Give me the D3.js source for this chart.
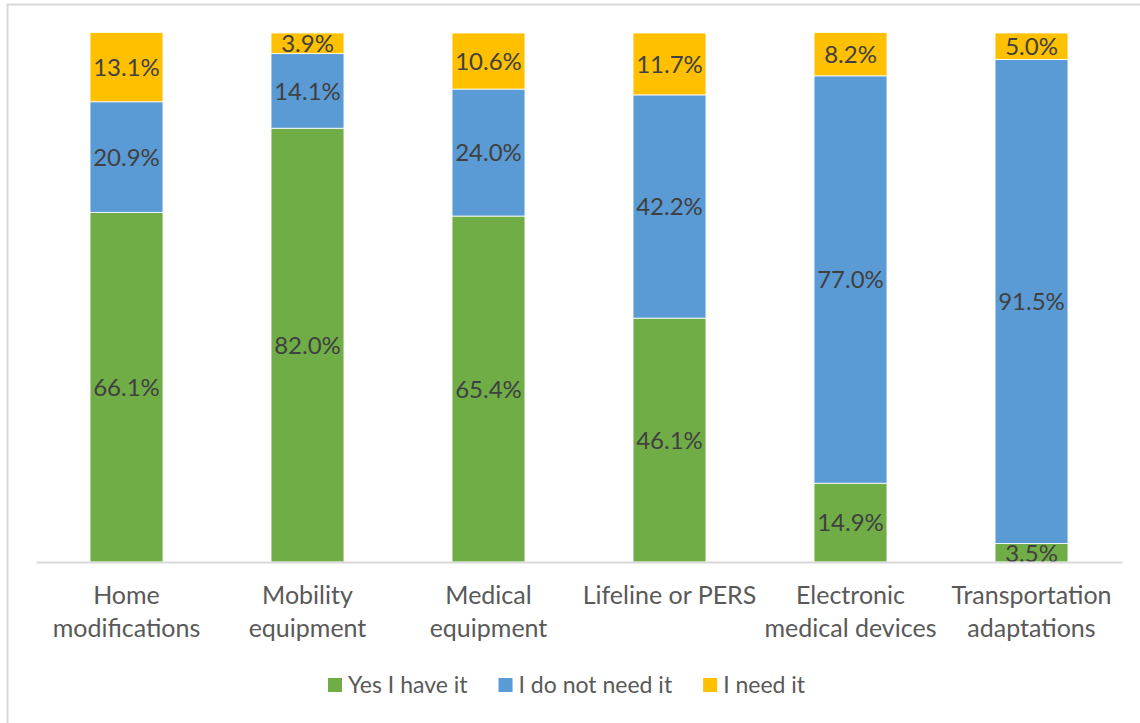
<!DOCTYPE html>
<html>
<head>
<meta charset="utf-8">
<script src="https://cdn.jsdelivr.net/npm/d3@7"></script>
<style>
  html, body { margin: 0; padding: 0; background: #fff; }
  svg { display: block; }
  text { font-family: Lato, "Open Sans", sans-serif; }
</style>
</head>
<body>
<svg id="chart" width="1140" height="723"></svg>
<script>
// Categories (each split into display lines)
const categories = [
  ["Home", "modifications"],
  ["Mobility", "equipment"],
  ["Medical", "equipment"],
  ["Lifeline or PERS"],
  ["Electronic", "medical devices"],
  ["Transportation", "adaptations"]
];
const seriesNames = ["Yes I have it", "I do not need it", "I need it"];
const haveIt =    [66.1, 82.0, 65.4, 46.1, 14.9, 3.5];
const notNeeded = [20.9, 14.1, 24.0, 42.2, 77.0, 91.5];
const needIt =    [13.1, 3.9, 10.6, 11.7, 8.2, 5.0];
const seriesColors = ["#70AD47", "#5B9BD5", "#FFC000"];

const svg = d3.select("#chart");
const W = 1140, H = 723;

// outer chart frame
svg.append("rect")
  .attr("x", 7.5).attr("y", 4.5)
  .attr("width", W + 20).attr("height", H + 20)
  .attr("fill", "none").attr("stroke", "#D9D9D9").attr("stroke-width", 2);

const plot = { left: 36, right: 1122, top: 33, bottom: 562 };

const keys = categories.map((c, i) => i);
const x = d3.scaleBand()
  .domain(keys)
  .range([plot.left, plot.right])
  .paddingInner(0.597)
  .paddingOuter(0.2985);

const y = d3.scaleLinear().domain([0, 100]).range([plot.bottom, plot.top]);

const rows = keys.map(i => ({ i, s0: haveIt[i], s1: notNeeded[i], s2: needIt[i] }));
const stack = d3.stack().keys(["s0", "s1", "s2"]);
const layers = stack(rows);

const g = svg.append("g");
layers.forEach((layer, li) => {
  const grp = g.append("g");
  grp.selectAll("rect")
    .data(layer)
    .join("rect")
    .attr("x", d => x(d.data.i))
    .attr("width", x.bandwidth())
    .attr("y", d => y(d[1]))
    .attr("height", d => y(d[0]) - y(d[1]))
    .attr("fill", seriesColors[li])
    .attr("stroke", "#fff")
    .attr("stroke-width", 0.8);
  grp.selectAll("text")
    .data(layer)
    .join("text")
    .attr("x", d => x(d.data.i) + x.bandwidth() / 2)
    .attr("y", d => (y(d[0]) + y(d[1])) / 2)
    .attr("dy", "0.37em")
    .attr("text-anchor", "middle")
    .attr("font-size", 24)
    .attr("fill", "#404040")
    .text(d => (d[1] - d[0]).toFixed(1) + "%");
});

// baseline axis
const xAxis = d3.axisBottom(x).tickSize(0).tickFormat("");
const axisG = svg.append("g")
  .attr("transform", `translate(0,${plot.bottom})`)
  .call(xAxis);
axisG.select(".domain").attr("stroke", "#D9D9D9").attr("stroke-width", 2);

// category labels
const lab = svg.append("g");
keys.forEach(i => {
  const t = lab.append("text")
    .attr("x", x(i) + x.bandwidth() / 2)
    .attr("y", 604)
    .attr("text-anchor", "middle")
    .attr("font-size", 25)
    .attr("fill", "#595959");
  categories[i].forEach((line, k) => {
    t.append("tspan")
      .attr("x", x(i) + x.bandwidth() / 2)
      .attr("dy", k === 0 ? 0 : 33)
      .text(line);
  });
});

// legend
const legend = svg.append("g");
let lx = 328;
seriesNames.forEach((name, k) => {
  legend.append("rect")
    .attr("x", lx).attr("y", 678)
    .attr("width", 14).attr("height", 14)
    .attr("fill", seriesColors[k]);
  const t = legend.append("text")
    .attr("x", lx + 20).attr("y", 693)
    .attr("font-size", 23)
    .attr("fill", "#595959")
    .text(name);
  lx += 20 + t.node().getComputedTextLength() + 31;
});
</script>
</body>
</html>
